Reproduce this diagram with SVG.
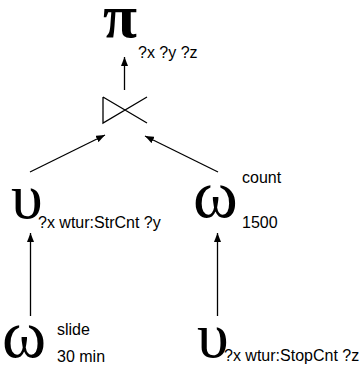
<svg xmlns="http://www.w3.org/2000/svg" width="361" height="372" viewBox="0 0 361 372">
<style>
.g{font-family:"Liberation Serif","DejaVu Serif",serif;fill:#000}
.t{font-family:"Liberation Sans",Arial,sans-serif;font-size:16px;fill:#000}
.e{stroke:#000;stroke-width:1.3;fill:none}
</style>
<defs>
<marker id="ah" viewBox="0 0 9 7" refX="9" refY="3.5" markerWidth="9" markerHeight="7" markerUnits="userSpaceOnUse" orient="auto">
<path d="M0,0L9,3.5L0,7z" fill="#000"/>
</marker>
</defs>
<rect width="361" height="372" fill="#fff"/>
<g id="connectors">
<line class="e" x1="124.5" y1="90" x2="124.5" y2="57" marker-end="url(#ah)"/>
<line class="e" x1="30" y1="172" x2="105" y2="135" marker-end="url(#ah)"/>
<line class="e" x1="218" y1="172" x2="145" y2="136" marker-end="url(#ah)"/>
<line class="e" x1="30.5" y1="316" x2="30.5" y2="233" marker-end="url(#ah)"/>
<line class="e" x1="217.5" y1="316" x2="217.5" y2="233" marker-end="url(#ah)"/>
</g>
<g id="projection">
<text class="g" x="103" y="37" font-size="62" font-weight="bold">π</text>
<text class="t" x="138" y="58">?x ?y ?z</text>
</g>
<g id="join">
<path class="e" stroke-width="1.6" d="M103,97V123L147,97M103,97L147,123"/>
</g>
<g id="select-str">
<text class="g" x="11" y="218" font-size="64">υ</text>
<text class="t" x="38" y="228">?x wtur:StrCnt ?y</text>
</g>
<g id="window-count">
<text class="g" x="193" y="217" font-size="68">ω</text>
<text class="t" x="242" y="183">count</text>
<text class="t" x="242" y="228">1500</text>
</g>
<g id="window-slide">
<text class="g" x="2" y="357" font-size="67">ω</text>
<text class="t" x="57" y="335">slide</text>
<text class="t" x="57" y="362">30 min</text>
</g>
<g id="select-stop">
<text class="g" x="197" y="357" font-size="64">υ</text>
<text class="t" x="224" y="361">?x wtur:StopCnt ?z</text>
</g>
</svg>
